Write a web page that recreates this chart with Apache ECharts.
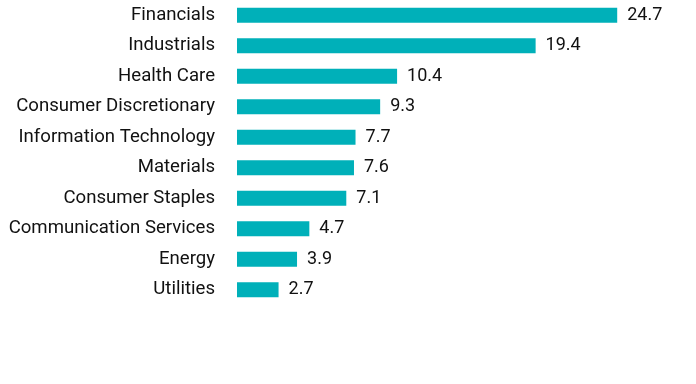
<!DOCTYPE html>
<html><head><meta charset="utf-8">
<script src="https://cdn.jsdelivr.net/npm/echarts@6/dist/echarts.min.js"></script>
<style>html,body{margin:0;padding:0;background:#fff}#c{width:696px;height:384px}</style>
</head><body><div id="c"></div>
<script>
const categories = ["Financials","Industrials","Health Care","Consumer Discretionary","Information Technology","Materials","Consumer Staples","Communication Services","Energy","Utilities"];
const values = [24.7,19.4,10.4,9.3,7.7,7.6,7.1,4.7,3.9,2.7];
const chart = echarts.init(document.getElementById('c'), null, {renderer:'canvas'});
chart.setOption({
  animation:false,
  grid:{left:237, top:0, width:431, height:305, containLabel:false},
  xAxis:{type:'value', min:0, max:28, show:false},
  yAxis:{type:'category', inverse:true, data:categories,
    axisLine:{show:false}, axisTick:{show:false},
    axisLabel:{margin:22, fontFamily:'Roboto', fontSize:18.6, color:'#111', padding:[3,0,0,0]}},
  series:[{type:'bar', data:values, barWidth:15,
    itemStyle:{color:'#00B0B9'},
    label:{show:true, position:'right', distance:10, fontFamily:'Roboto', fontSize:18, color:'#111', padding:[3,0,0,0],
      formatter:p=>p.value.toFixed(1)}}]
});
</script></body></html>
